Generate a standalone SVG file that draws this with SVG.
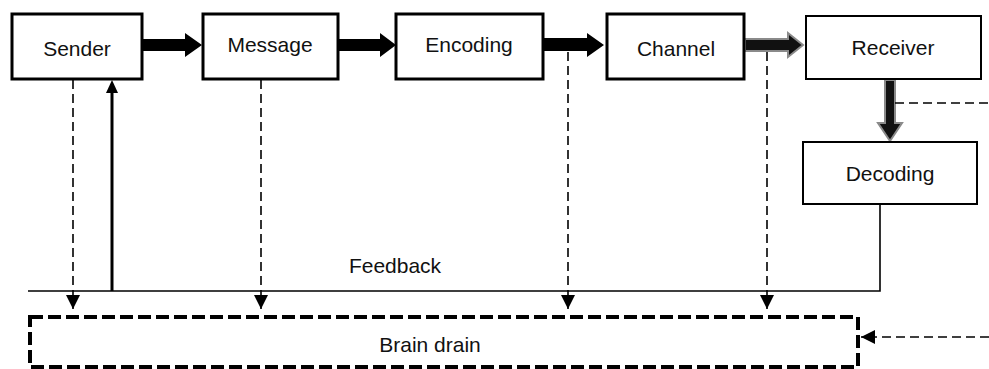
<svg xmlns="http://www.w3.org/2000/svg" width="989" height="369" viewBox="0 0 989 369">
<defs>
<style>
.box{fill:#fff;stroke:#000;stroke-width:3}
.box2{fill:#fff;stroke:#000;stroke-width:2}
.lbl{font-family:"Liberation Sans",Arial,sans-serif;font-size:21px;fill:#111;text-anchor:middle}
.thin{fill:none;stroke:#000;stroke-width:1.6}
.dash{fill:none;stroke:#000;stroke-width:1.6;stroke-dasharray:9 5}
.bdash{fill:none;stroke:#000;stroke-width:4;stroke-dasharray:13 5}
.blk{fill:#000}
.gry{fill:#111;stroke:#8a8a8a;stroke-width:2}
</style>
<marker id="tri" viewBox="0 0 10 10" refX="10" refY="5" markerWidth="14" markerHeight="15" markerUnits="userSpaceOnUse" orient="auto">
<path d="M0,0 L10,5 L0,10 Z" fill="#000"/>
</marker>
</defs>
<rect width="989" height="369" fill="#fff"/>
<g id="connectors">
<path class="blk" d="M143,39 H185 V33 L202,45 L185,57 V51 H143 Z"/>
<path class="blk" d="M339,39 H380 V33 L396,45 L380,57 V51 H339 Z"/>
<path class="blk" d="M544,38 H587 V33 L604,45 L587,57 V51 H544 Z"/>
<path class="gry" d="M745,39 H788 V33 L803,45 L788,57 V51 H745 Z"/>
<path class="gry" d="M885,80 V123 H878 L890,141 L902,123 H895 V80 Z"/>
<path class="dash" d="M895,103 H989"/>
<path class="dash" d="M73,80 V309" marker-end="url(#tri)"/>
<path class="dash" d="M261,80 V309" marker-end="url(#tri)"/>
<path class="dash" d="M568,52 V309" marker-end="url(#tri)"/>
<path class="dash" d="M767,52 V309" marker-end="url(#tri)"/>
<path class="dash" d="M989,337 H861" marker-end="url(#tri)"/>
<path class="thin" d="M28,291 H880 V205"/>
<path d="M112,291 V92" fill="none" stroke="#000" stroke-width="3"/>
<path d="M106,93 L112,80 L118,93 Z" fill="#000"/>
<text class="lbl" x="395" y="273">Feedback</text>
</g>
<g id="sender"><rect class="box" x="12" y="14" width="130" height="65"/><text class="lbl" x="77" y="56">Sender</text></g>
<g id="message"><rect class="box" x="203" y="14" width="135" height="65"/><text class="lbl" x="270" y="52">Message</text></g>
<g id="encoding"><rect class="box" x="396" y="14" width="147" height="65"/><text class="lbl" x="469" y="52">Encoding</text></g>
<g id="channel"><rect class="box" x="607" y="14" width="137" height="65"/><text class="lbl" x="676" y="56">Channel</text></g>
<g id="receiver"><rect class="box2" x="806" y="16" width="175" height="63"/><text class="lbl" x="893" y="55">Receiver</text></g>
<g id="decoding"><rect class="box2" x="803" y="142" width="174" height="62"/><text class="lbl" x="890" y="181">Decoding</text></g>
<g id="brain-drain"><rect class="bdash" x="30" y="317" width="828" height="50"/><text class="lbl" x="430" y="352">Brain drain</text></g>
</svg>
